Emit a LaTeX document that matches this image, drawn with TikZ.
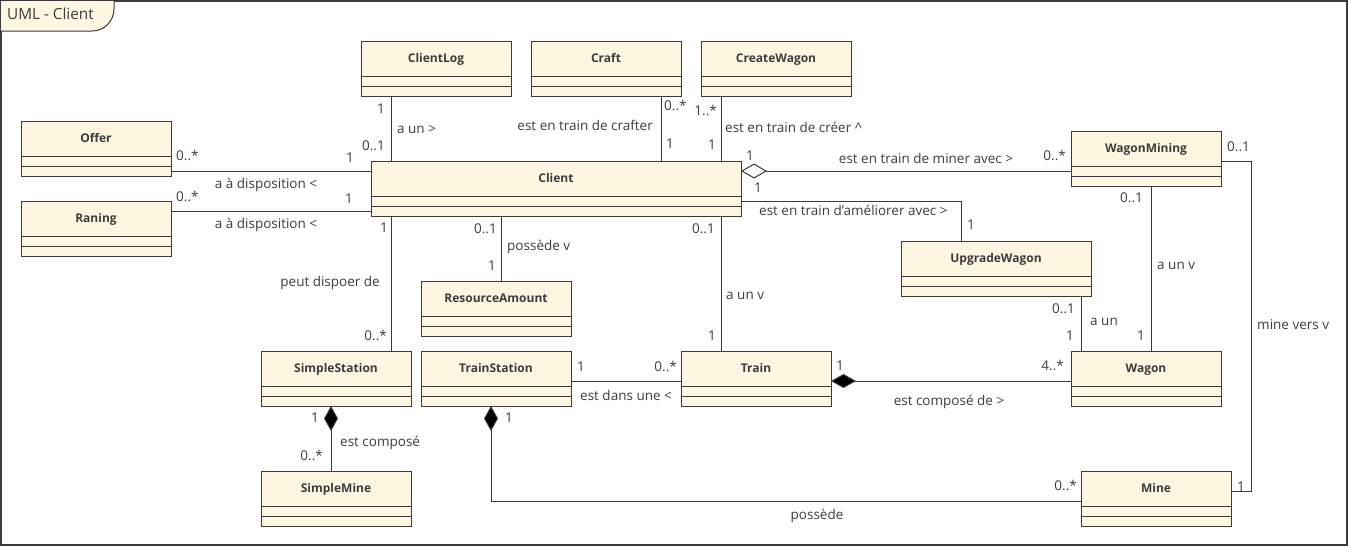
\documentclass[tikz,border=0pt]{standalone}
\usepackage{fontspec}
\setmainfont{Open Sans}
\usetikzlibrary{arrows.meta}
\definecolor{classfill}{RGB}{254,246,225}
\definecolor{ink}{RGB}{58,58,58}
\definecolor{textcol}{RGB}{60,60,60}
\tikzset{
  classbox/.style={draw=ink, fill=classfill, line width=1pt, rectangle,
    minimum height=55pt, inner sep=0pt, outer sep=0pt, anchor=north west},
  classline/.style={draw=ink, line width=1pt},
  classname/.style={font=\fontsize{12}{14}\selectfont\bfseries, text=textcol, inner sep=0pt, anchor=mid},
  assoc/.style={draw=ink, line width=1pt},
  lbl/.style={font=\fontsize{13.5}{15}\selectfont, text=textcol, inner sep=0pt},
  aggr/.style={{Diamond[length=26pt,width=15pt,fill=white,line width=1pt]}-},
  compo/.style={{Diamond[length=25pt,width=14pt,fill=black,line width=1pt]}-},
}
% class box: name, left, top, width, title
\newcommand\umlclass[5]{%
  \node[classbox, minimum width=#4pt] (#1) at (#2,#3) {};
  \draw[classline] ([yshift=-35pt]#1.north west) -- ([yshift=-35pt]#1.north east);
  \draw[classline] ([yshift=-45pt]#1.north west) -- ([yshift=-45pt]#1.north east);
  \node[classname] (#1-title) at ([yshift=-18.6pt]#1.north) {#5};
}
\begin{document}
\begin{tikzpicture}[x=1pt,y=-1pt]
\useasboundingbox (0,0) rectangle (1349,547);
% frame and its tab
\draw[ink, line width=1.5pt] (1,1) rectangle (1347,545);
\path[fill=classfill] (1,1) -- (114,1) [rounded corners=22pt] -- (114,31) [sharp corners] -- (1,31) -- cycle;
\draw[ink, line width=1pt] (114,1) [rounded corners=22pt] -- (114,31) [sharp corners] -- (1,31);
\node[font=\fontsize{15.3}{17}\selectfont, text=textcol, anchor=mid west, inner sep=0pt] (frametitle) at (7,17) {UML - Client};

% classes
\umlclass{clientlog}{361}{41}{150}{ClientLog}
\umlclass{craft}{531}{41}{150}{Craft}
\umlclass{createwagon}{701}{41}{150}{CreateWagon}
\umlclass{offer}{21}{121}{150}{Offer}
\umlclass{raning}{21}{201}{150}{Raning}
\umlclass{client}{371}{161}{370}{Client}
\umlclass{wagonmining}{1071}{131}{150}{WagonMining}
\umlclass{upgradewagon}{901}{241}{190}{UpgradeWagon}
\umlclass{resourceamount}{421}{281}{150}{ResourceAmount}
\umlclass{simplestation}{261}{351}{150}{SimpleStation}
\umlclass{trainstation}{421}{351}{150}{TrainStation}
\umlclass{train}{681}{351}{150}{Train}
\umlclass{wagon}{1071}{351}{150}{Wagon}
\umlclass{simplemine}{261}{471}{150}{SimpleMine}
\umlclass{mine}{1081}{471}{150}{Mine}

% attachment points
\coordinate (p-log) at ([xshift=30pt]clientlog.south west);
\coordinate (p-craft) at ([xshift=130pt]craft.south west);
\coordinate (p-create) at ([xshift=20pt]createwagon.south west);
\coordinate (p-offer) at ([yshift=-50pt]offer.north east);
\coordinate (p-raning) at ([yshift=-10pt]raning.north east);
\coordinate (p-mining) at ([yshift=-10pt]client.north east);
\coordinate (p-upg) at ([yshift=-40pt]client.north east);
\coordinate (p-upgtop) at ([xshift=60pt]upgradewagon.north west);
\coordinate (p-sstat) at ([xshift=130pt]simplestation.north west);
\coordinate (p-res) at ([xshift=80pt]resourceamount.north west);
\coordinate (p-train) at ([xshift=40pt]train.north west);
\coordinate (p-wagupg) at ([xshift=10pt]wagon.north west);
\coordinate (p-wagmin) at ([xshift=80pt]wagonmining.south west);
\coordinate (p-minevers) at ([yshift=-30pt]wagonmining.north east);
\coordinate (p-mineright) at ([yshift=-20pt]mine.north east);
\coordinate (p-tstat) at ([yshift=-30pt]trainstation.north east);
\coordinate (p-compo) at ([yshift=-30pt]train.north east);
\coordinate (p-smine) at ([xshift=70pt]simplestation.south west);
\coordinate (p-tmine) at ([xshift=70pt]trainstation.south west);
\coordinate (p-mineleft) at ([yshift=-30pt]mine.north west);

% associations
\draw[assoc] (p-log) -- (p-log |- client.north);
\draw[assoc] (p-craft) -- (p-craft |- client.north);
\draw[assoc] (p-create) -- (p-create |- client.north);
\draw[assoc] (p-offer) -- (p-offer -| client.west);
\draw[assoc] (p-raning) -- (p-raning -| client.west);
\draw[assoc, aggr] (p-mining) -- (p-mining -| wagonmining.west);
\draw[assoc] (p-upg) -| (p-upgtop);
\draw[assoc] (p-sstat) -- (p-sstat |- client.south);
\draw[assoc] (p-res) -- (p-res |- client.south);
\draw[assoc] (p-train) -- (p-train |- client.south);
\draw[assoc] (p-wagupg) -- (p-wagupg |- upgradewagon.south);
\draw[assoc] (p-wagmin) -- (p-wagmin |- wagon.north);
\draw[assoc] (p-minevers) -- ++(30,0) |- (p-mineright);
\draw[assoc] (p-tstat) -- (p-tstat -| train.west);
\draw[assoc, compo] (p-compo) -- (p-compo -| wagon.west);
\draw[assoc, compo] (p-smine) -- (p-smine |- simplemine.north);
\draw[assoc, compo] (p-tmine) |- (p-mineleft);

% labels
\begin{scope}[every node/.style={lbl}]
% ClientLog
\node[anchor=mid east] (l1) at (385,111) {1};
\node[anchor=mid east] (l2) at (385,148) {0..1};
\node[anchor=mid west] (l3) at (397,131) {a un >};
% Craft
\node[anchor=mid east] (l4) at (653,128) {est en train de crafter};
\node[anchor=mid west] (l5) at (664,108) {0..*};
\node[anchor=mid west] (l6) at (666,146) {1};
% CreateWagon
\node[anchor=mid east] (l7) at (717,113) {1..*};
\node[anchor=mid east] (l8) at (716,147) {1};
\node[anchor=mid west] (l9) at (725,130) {est en train de créer \^{}};
% Offer, Raning
\node[anchor=mid west] (l10) at (176,158) {0..*};
\node[anchor=mid east] (l11) at (354,160) {1};
\node (l12) at (266,185) {a à disposition <};
\node[anchor=mid west] (l13) at (176,199) {0..*};
\node[anchor=mid east] (l14) at (353,201) {1};
\node (l15) at (266,225) {a à disposition <};
% WagonMining
\node[anchor=mid west] (l16) at (746,158) {1};
\node[anchor=mid west] (l17) at (754,190) {1};
\node (l18) at (926,158) {est en train de miner avec >};
\node[anchor=mid east] (l19) at (1066,158) {0..*};
% UpgradeWagon
\node[anchor=mid west] (l20) at (759,213) {est en train d'améliorer avec >};
\node[anchor=mid west] (l21) at (967,227) {1};
% SimpleStation
\node[anchor=mid east] (l22) at (388,230) {1};
\node[anchor=mid east] (l23) at (380,284) {peut dispoer de};
\node[anchor=mid east] (l24) at (387,338) {0..*};
% ResourceAmount
\node[anchor=mid east] (l25) at (497,231) {0..1};
\node[anchor=mid west] (l26) at (507,248) {possède v};
\node[anchor=mid east] (l27) at (496,268) {1};
% Train
\node[anchor=mid east] (l28) at (715,231) {0..1};
\node[anchor=mid west] (l29) at (726,297) {a un v};
\node[anchor=mid east] (l30) at (716,338) {1};
% UpgradeWagon - Wagon
\node[anchor=mid east] (l31) at (1075,311) {0..1};
\node[anchor=mid west] (l32) at (1090,323) {a un};
\node[anchor=mid east] (l33) at (1074,338) {1};
% WagonMining - Wagon
\node[anchor=mid east] (l34) at (1143,200) {0..1};
\node[anchor=mid west] (l35) at (1157,267) {a un v};
\node[anchor=mid east] (l36) at (1145,338) {1};
% WagonMining - Mine
\node[anchor=mid west] (l37) at (1227,149) {0..1};
\node[anchor=mid west] (l38) at (1257,327) {mine vers v};
\node[anchor=mid west] (l39) at (1237,489) {1};
% TrainStation - Train
\node[anchor=mid west] (l40) at (577,369) {1};
\node[anchor=mid east] (l41) at (677,369) {0..*};
\node[anchor=mid west] (l42) at (580,398) {est dans une <};
% Train - Wagon
\node[anchor=mid west] (l43) at (836,368) {1};
\node[anchor=mid east] (l44) at (1064,368) {4..*};
\node (l45) at (949,402) {est composé de >};
% SimpleStation - SimpleMine
\node[anchor=mid east] (l46) at (319,420) {1};
\node[anchor=mid east] (l47) at (323,458) {0..*};
\node[anchor=mid west] (l48) at (340,444) {est composé};
% TrainStation - Mine
\node[anchor=mid west] (l49) at (505,420) {1};
\node[anchor=mid east] (l50) at (1077,488) {0..*};
\node (l51) at (817,516) {possède};
\end{scope}
\end{tikzpicture}
\end{document}
